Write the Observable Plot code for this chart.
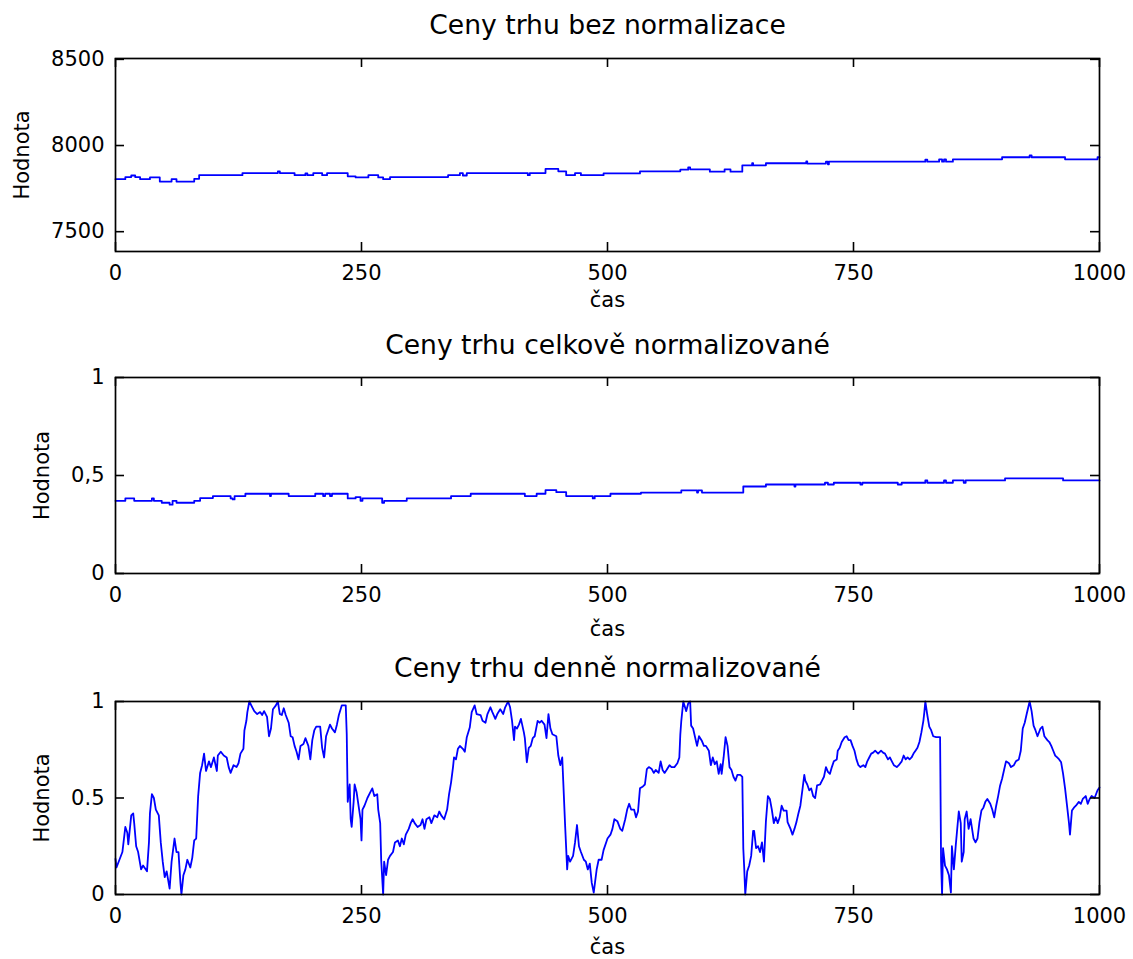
<!DOCTYPE html>
<html>
<head>
<meta charset="utf-8">
<script src="https://cdn.jsdelivr.net/npm/d3@7"></script>
<script src="https://cdn.jsdelivr.net/npm/@observablehq/plot@0.6"></script>
<style>
  html, body { margin: 0; padding: 0; background: #fff; }
  #chart svg { display: block; }
</style>
</head>
<body>
<div id="chart"></div>
<script>
// ---------- texts ----------
const titles = ["Ceny trhu bez normalizace", "Ceny trhu celkově normalizované", "Ceny trhu denně normalizované"];
const xLabel = "čas";
const yLabel = "Hodnota";

// ---------- ticks ----------
const xTicks = [0, 250, 500, 750, 1000];
const xTickLabels = ["0", "250", "500", "750", "1000"];
const y1Ticks = [7500, 8000, 8500];
const y1TickLabels = ["7500", "8000", "8500"];
const y2Ticks = [0, 0.5, 1];
const y2TickLabels = ["0", "0,5", "1"];
const y3Ticks = [0, 0.5, 1];
const y3TickLabels = ["0", "0.5", "1"];

// ---------- panel 1: raw market prices ----------
const p1Time = [0,10,16,20,25,35,45,57,62,80,
  85,129,165,167,182,193,195,201,210,215,
  236,244,257,267,272,279,338,350,353,357,
  419,421,437,450,458,467,473,496,533,574,
  582,584,604,619,625,637,647,648,661,702,
  703,722,724,725,823,825,837,840,842,844,
  851,901,929,931,965,998,1000];
const p1Value = [7805,7817,7826,7817,7805,7815,7791,7805,7791,7807,
  7828,7840,7850,7840,7828,7838,7828,7840,7828,7840,
  7821,7815,7828,7815,7805,7817,7828,7840,7826,7840,
  7828,7840,7864,7850,7828,7840,7828,7838,7850,7860,
  7873,7862,7848,7862,7848,7885,7897,7885,7897,7908,
  7895,7906,7891,7906,7918,7906,7920,7906,7920,7906,
  7920,7932,7943,7932,7920,7932,7932];

// ---------- panel 2: globally normalized ----------
const p2Time = [0,10,19,37,39,47,55,58,62,80,
  86,99,117,119,121,132,157,158,176,203,
  211,213,218,220,236,244,249,251,271,273,
  296,341,361,416,428,437,448,458,485,487,
  503,534,575,591,592,596,638,661,690,691,
  721,724,730,757,759,795,799,823,825,842,
  844,851,862,864,904,963,1000];
const p2Value = [0.371,0.383,0.371,0.383,0.371,0.361,0.351,0.371,0.361,0.371,
  0.385,0.395,0.383,0.378,0.395,0.407,0.395,0.407,0.395,0.407,
  0.395,0.407,0.395,0.407,0.383,0.390,0.371,0.383,0.361,0.371,
  0.383,0.395,0.407,0.395,0.407,0.425,0.415,0.395,0.383,0.395,
  0.407,0.413,0.424,0.413,0.424,0.413,0.444,0.454,0.444,0.454,
  0.463,0.454,0.463,0.454,0.463,0.454,0.463,0.475,0.463,0.475,
  0.463,0.475,0.463,0.475,0.485,0.475,0.475];

// ---------- panel 3: daily normalized ----------
const p3Time = [0,1,7,10,12,13,16,18,19,21,
  23,26,28,32,34,35,37,39,41,44,
  46,48,50,52,55,57,60,62,64,66,
  67,69,71,73,76,78,80,82,84,86,
  88,90,92,95,97,100,103,104,107,110,
  113,115,117,120,123,125,127,130,131,133,
  134,136,139,141,144,147,149,151,154,156,
  158,160,163,165,167,169,171,173,176,178,
  180,182,184,186,188,191,193,196,198,200,
  202,204,208,210,212,214,216,218,220,223,
  225,227,230,232,234,235,236,238,239,240,
  242,243,245,247,249,250,251,253,256,259,
  261,263,266,267,269,270,272,273,275,277,
  279,282,284,287,289,291,293,295,298,300,
  302,304,307,310,312,314,316,319,321,324,
  327,329,331,334,337,339,341,343,344,346,
  348,350,353,355,357,360,362,365,367,371,
  373,376,378,381,383,386,388,391,394,396,
  399,401,403,405,406,408,410,412,415,416,
  418,420,422,424,426,429,431,433,436,438,
  440,442,444,448,450,452,454,455,457,459,
  460,462,465,467,469,471,473,476,478,480,
  482,484,486,489,491,494,496,500,503,505,
  507,510,513,515,518,520,522,524,527,529,
  531,533,536,538,540,542,545,547,549,552,
  554,556,558,560,563,565,568,571,573,574,
  575,577,580,582,584,585,587,589,591,593,
  596,598,600,603,605,607,609,611,613,615,
  616,618,620,622,624,626,628,630,632,635,
  637,638,639,640,642,644,646,648,649,651,
  653,655,657,659,661,663,665,667,669,671,
  673,675,677,679,682,683,686,688,690,692,
  694,696,698,700,701,703,705,707,709,711,
  713,716,718,720,722,724,726,728,730,733,
  734,736,738,741,743,745,747,749,751,753,
  755,757,760,762,764,766,768,770,772,775,
  778,780,782,785,787,789,791,794,796,799,
  801,803,805,807,809,811,813,815,817,819,
  821,822,823,825,827,829,831,834,838,839,
  840,841,843,845,847,849,850,852,854,857,
  859,860,862,863,865,867,869,872,874,876,
  878,880,882,884,886,889,891,893,895,897,
  899,901,903,905,908,910,913,915,918,920,
  922,924,926,929,931,933,935,937,940,942,
  944,947,949,951,953,955,957,959,961,963,
  965,967,969,970,972,974,976,979,981,983,
  986,988,990,992,995,998,1000];
const p3Value = [0.185,0.14,0.22,0.35,0.32,0.26,0.41,0.42,0.37,0.25,
  0.22,0.13,0.15,0.12,0.27,0.42,0.52,0.50,0.44,0.41,
  0.27,0.17,0.09,0.12,0.03,0.17,0.29,0.22,0.22,0.06,
  0.0,0.10,0.13,0.18,0.14,0.19,0.28,0.29,0.51,0.63,
  0.67,0.73,0.64,0.69,0.66,0.71,0.64,0.72,0.74,0.72,
  0.71,0.66,0.63,0.67,0.66,0.68,0.73,0.755,0.85,0.90,
  0.945,1.0,0.97,0.95,0.935,0.945,0.93,0.95,0.92,0.82,
  0.86,0.96,0.98,1.0,0.935,0.93,0.965,0.93,0.89,0.82,
  0.815,0.77,0.74,0.70,0.77,0.78,0.81,0.77,0.70,0.80,
  0.85,0.87,0.87,0.76,0.71,0.82,0.85,0.88,0.86,0.84,
  0.88,0.93,0.98,0.98,0.98,0.83,0.48,0.57,0.39,0.35,
  0.48,0.57,0.53,0.46,0.39,0.28,0.44,0.46,0.50,0.53,
  0.55,0.51,0.52,0.44,0.37,0.18,0.0,0.17,0.10,0.18,
  0.20,0.22,0.27,0.28,0.25,0.29,0.26,0.31,0.34,0.37,
  0.39,0.37,0.35,0.36,0.39,0.34,0.39,0.40,0.37,0.41,
  0.40,0.43,0.41,0.39,0.44,0.52,0.58,0.66,0.71,0.70,
  0.755,0.77,0.755,0.74,0.815,0.865,0.945,0.98,0.935,0.93,
  0.90,0.89,0.935,0.97,0.945,0.91,0.935,0.96,0.935,0.97,
  1.0,0.97,0.90,0.80,0.87,0.86,0.88,0.91,0.84,0.81,
  0.685,0.76,0.77,0.81,0.82,0.90,0.89,0.90,0.88,0.81,
  0.935,0.86,0.83,0.82,0.72,0.67,0.71,0.59,0.35,0.13,
  0.20,0.17,0.20,0.27,0.36,0.25,0.22,0.18,0.17,0.13,
  0.16,0.06,0.01,0.13,0.18,0.18,0.23,0.29,0.31,0.34,
  0.39,0.38,0.34,0.33,0.39,0.44,0.47,0.44,0.44,0.40,
  0.43,0.55,0.56,0.57,0.65,0.66,0.65,0.63,0.645,0.63,
  0.69,0.645,0.63,0.645,0.67,0.66,0.66,0.68,0.71,0.83,
  0.90,1.0,0.95,0.99,1.0,0.875,0.86,0.815,0.77,0.82,
  0.795,0.77,0.77,0.745,0.67,0.71,0.675,0.69,0.625,0.675,
  0.625,0.71,0.815,0.77,0.66,0.645,0.61,0.59,0.62,0.62,
  0.61,0.24,0.13,0.0,0.12,0.15,0.20,0.33,0.33,0.24,
  0.25,0.22,0.27,0.17,0.38,0.51,0.495,0.44,0.37,0.40,
  0.37,0.40,0.46,0.435,0.435,0.375,0.34,0.31,0.34,0.375,
  0.42,0.46,0.54,0.62,0.59,0.57,0.54,0.55,0.51,0.50,
  0.565,0.57,0.59,0.61,0.66,0.635,0.625,0.66,0.69,0.70,
  0.745,0.76,0.79,0.815,0.82,0.80,0.80,0.77,0.745,0.70,
  0.67,0.66,0.67,0.66,0.69,0.71,0.73,0.735,0.745,0.73,
  0.745,0.735,0.73,0.70,0.71,0.69,0.67,0.66,0.67,0.69,
  0.72,0.70,0.71,0.70,0.71,0.73,0.745,0.76,0.79,0.84,
  0.90,0.945,1.0,0.93,0.87,0.85,0.82,0.815,0.815,0.17,
  0.0,0.24,0.15,0.13,0.10,0.01,0.25,0.13,0.26,0.43,
  0.37,0.17,0.22,0.39,0.43,0.34,0.39,0.29,0.27,0.29,
  0.375,0.435,0.45,0.48,0.495,0.47,0.44,0.40,0.46,0.51,
  0.565,0.60,0.645,0.69,0.68,0.66,0.67,0.69,0.70,0.745,
  0.86,0.89,0.935,1.0,0.95,0.875,0.85,0.82,0.86,0.87,
  0.82,0.80,0.79,0.77,0.745,0.72,0.71,0.70,0.685,0.625,
  0.55,0.46,0.37,0.31,0.435,0.45,0.46,0.48,0.47,0.495,
  0.51,0.47,0.495,0.51,0.50,0.54,0.555];

// ---------- drawing ----------
const W = 1133, ML = 115, MR = 34, TICK = 9;
const FONT = "'DejaVu Sans', 'Liberation Sans', sans-serif";

function panel(o) {
  const fH = o.height - o.marginTop - o.marginBottom;
  const fW = W - ML - MR;
  const rows = o.time.map((t, i) => ({t, v: o.value[i]}));
  const fmtX = d => xTickLabels[xTicks.indexOf(d)];
  const fmtY = d => o.yLabels[o.yTicks.indexOf(d)];
  const tickStyle = {stroke: "#000", strokeWidth: 1.6};
  const textStyle = {text: d => d, fill: "#000", lineAnchor: "middle", textAnchor: "middle"};
  return Plot.plot({
    width: W,
    height: o.height,
    marginLeft: ML,
    marginRight: MR,
    marginTop: o.marginTop,
    marginBottom: o.marginBottom,
    x: {domain: [0, 1000], label: null},
    y: {domain: o.yDomain, label: null},
    style: {fontFamily: FONT, fontSize: "21px", color: "#000", background: "#fff", overflow: "visible"},
    marks: [
      Plot.line(rows, {x: "t", y: "v", stroke: "#0000ff", strokeWidth: o.lineWidth, curve: o.curve}),
      Plot.frame({stroke: "#000", strokeWidth: 1.7}),
      Plot.tickX(xTicks, {x: d => d, insetTop: fH - TICK, ...tickStyle}),
      Plot.tickX(xTicks, {x: d => d, insetBottom: fH - TICK, ...tickStyle}),
      Plot.tickY(o.yTicks, {y: d => d, insetRight: fW - TICK, ...tickStyle}),
      Plot.tickY(o.yTicks, {y: d => d, insetLeft: fW - TICK, ...tickStyle}),
      Plot.axisX(xTicks, {tickSize: 0, tickPadding: 14, tickFormat: fmtX, label: null, fontSize: 21, fill: "#000"}),
      Plot.axisY(o.yTicks, {tickSize: 0, tickPadding: 11, tickFormat: fmtY, label: null, fontSize: 21, fill: "#000"}),
      Plot.text([o.title], {...textStyle, frameAnchor: "top", dy: o.titleDy, fontSize: 26.6}),
      Plot.text([xLabel], {...textStyle, frameAnchor: "bottom", dy: o.xLabelDy, fontSize: 21}),
      Plot.text([yLabel], {...textStyle, frameAnchor: "left", dx: o.yLabelDx, rotate: -90, fontSize: 21})
    ]
  });
}

const root = document.getElementById("chart");
root.append(panel({
  time: p1Time, value: p1Value, yDomain: [7385, 8505], yTicks: y1Ticks, yLabels: y1TickLabels,
  title: titles[0], height: 320, marginTop: 58, marginBottom: 69,
  titleDy: -33, xLabelDy: 49, yLabelDx: -93, curve: "step-after", lineWidth: 1.8
}));
root.append(panel({
  time: p2Time, value: p2Value, yDomain: [0, 1], yTicks: y2Ticks, yLabels: y2TickLabels,
  title: titles[1], height: 320, marginTop: 57, marginBottom: 67,
  titleDy: -32, xLabelDy: 56, yLabelDx: -73, curve: "step-after", lineWidth: 1.8
}));
root.append(panel({
  time: p3Time, value: p3Value, yDomain: [0, 1], yTicks: y3Ticks, yLabels: y3TickLabels,
  title: titles[2], height: 319, marginTop: 61, marginBottom: 65,
  titleDy: -33, xLabelDy: 53, yLabelDx: -73, curve: "linear", lineWidth: 1.8
}));
</script>
</body>
</html>
